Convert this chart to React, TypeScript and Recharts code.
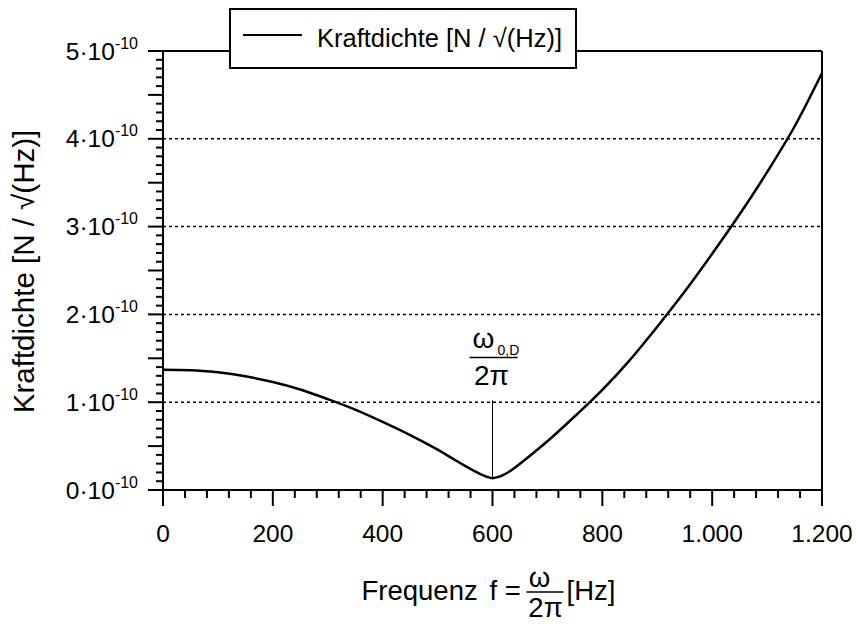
import React from "react";
import {
  LineChart,
  Line,
  XAxis,
  YAxis,
  ReferenceLine,
  Legend,
} from "recharts";

// Frequenz [Hz]
const frequenz = [
  0, 50, 100, 150, 200, 250, 300, 350, 400, 450, 500, 535, 550, 565, 580, 590,
  600, 610, 620, 635, 650, 675, 700, 750, 800, 850, 900, 950, 1000, 1050, 1100,
  1150, 1200,
];
// Kraftdichte in 1e-10 N/sqrt(Hz)
const kraftdichte = [
  1.37, 1.365, 1.34, 1.295, 1.23, 1.145, 1.035, 0.915, 0.775, 0.625, 0.46,
  0.33, 0.275, 0.222, 0.174, 0.15, 0.135, 0.148, 0.172, 0.228, 0.3, 0.425,
  0.555, 0.84, 1.14, 1.48, 1.86, 2.26, 2.69, 3.14, 3.62, 4.14, 4.75,
];

const xTicks = Array.from({ length: 31 }, (_, i) => i * 40);
const yTicks = Array.from({ length: 51 }, (_, i) => i / 10);
const gridLines = [1, 2, 3, 4];
const omegaD = 600;

const data = frequenz.map((f, i) => ({ f, k: kraftdichte[i] }));

const FONT = "'Liberation Sans', Arial, Helvetica, sans-serif";

const fmtDe = (v: number) =>
  v >= 1000 ? Math.floor(v / 1000) + "." + String(v % 1000).padStart(3, "0") : String(v);

const XTick = (props: any) => {
  const { x, y, payload } = props;
  const v = payload.value;
  const major = v % 200 === 0;
  return (
    <g>
      <line x1={x} x2={x} y1={y} y2={y + (major ? 16 : 8)} stroke="#000" strokeWidth={2} />
      {major && (
        <text x={x} y={y + 52} textAnchor="middle" fontSize={24.5} fontFamily={FONT} fill="#000">
          {fmtDe(v)}
        </text>
      )}
    </g>
  );
};

const YTick = (props: any) => {
  const { x, y, payload } = props;
  const i = Math.round(payload.value * 10);
  const major = i % 10 === 0;
  const half = i % 5 === 0;
  return (
    <g>
      <line x1={x - (half ? 15 : 7)} x2={x} y1={y} y2={y} stroke="#000" strokeWidth={2} />
      {major && (
        <text x={x - 25} y={y + 8.5} textAnchor="end" fontSize={24.5} fontFamily={FONT} fill="#000">
          {i / 10}·10
          <tspan dy={-11} fontSize={16}>
            -10
          </tspan>
        </text>
      )}
    </g>
  );
};

const XTitle = (props: any) => {
  const { viewBox } = props;
  const cx = viewBox.x + viewBox.width / 2;
  const y = viewBox.y;
  return (
    <g fontFamily={FONT} fill="#000" fontSize={27.5}>
      <text x={cx - 131} y={y + 110}>Frequenz</text>
      <text x={cx - 3} y={y + 110}>f =</text>
      <text x={cx + 47} y={y + 97} textAnchor="middle">ω</text>
      <line x1={cx + 34} x2={cx + 71} y1={y + 102} y2={y + 102} stroke="#000" strokeWidth={1.5} />
      <text x={cx + 53} y={y + 127} textAnchor="middle">2π</text>
      <text x={cx + 74} y={y + 110}>[Hz]</text>
    </g>
  );
};

const YTitle = (props: any) => {
  const { viewBox } = props;
  const cy = viewBox.y + viewBox.height / 2 + 1;
  const x = 34;
  return (
    <text
      x={x}
      y={cy}
      transform={`rotate(-90, ${x}, ${cy})`}
      textAnchor="middle"
      fontSize={29.5}
      fontFamily={FONT}
      fill="#000"
    >
      Kraftdichte [N / √(Hz)]
    </text>
  );
};

const OmegaLabel = (props: any) => {
  const { viewBox } = props;
  const cx = viewBox.x;
  const top = viewBox.y;
  return (
    <g fontFamily={FONT} fill="#000">
      <text x={cx - 20} y={top - 52} fontSize={28}>ω</text>
      <text x={cx + 5} y={top - 45} fontSize={14}>0,D</text>
      <line x1={cx - 23} x2={cx + 25} y1={top - 43} y2={top - 43} stroke="#000" strokeWidth={1.5} />
      <text x={cx - 1} y={top - 15} fontSize={28} textAnchor="middle">2π</text>
    </g>
  );
};

const LegendBox = () => (
  <div
    style={{
      width: 348,
      height: 61,
      boxSizing: "border-box",
      border: "2px solid #000",
      background: "#fff",
    }}
  >
    <svg width={344} height={57}>
      <line x1={12} x2={71} y1={25} y2={25} stroke="#000" strokeWidth={2} />
      <text x={86} y={37} fontSize={25.5} fontFamily={FONT} fill="#000">
        Kraftdichte [N / √(Hz)]
      </text>
    </svg>
  </div>
);

export default function App() {
  return (
    <div style={{ position: "absolute", left: 0, top: 0, background: "#fff" }}>
      <LineChart
        width={856}
        height={624}
        data={data}
        margin={{ top: 51, right: 34, bottom: 0, left: 0 }}
      >
        <XAxis
          dataKey="f"
          type="number"
          domain={[0, 1200]}
          ticks={xTicks}
          interval={0}
          height={134}
          tickSize={0}
          tickMargin={0}
          tickLine={false}
          axisLine={{ stroke: "#000", strokeWidth: 2 }}
          tick={<XTick />}
          label={<XTitle />}
        />
        <YAxis
          type="number"
          domain={[0, 5]}
          ticks={yTicks}
          interval={0}
          width={163}
          tickSize={0}
          tickMargin={0}
          tickLine={false}
          axisLine={{ stroke: "#000", strokeWidth: 2 }}
          tick={<YTick />}
          label={<YTitle />}
        />
        {gridLines.map((v) => (
          <ReferenceLine key={v} y={v} stroke="#000" strokeWidth={1.5} strokeDasharray="3 3" />
        ))}
        <ReferenceLine y={5} stroke="#000" strokeWidth={2} />
        <ReferenceLine x={1200} stroke="#000" strokeWidth={2} />
        <ReferenceLine
          segment={[
            { x: omegaD, y: 0.135 },
            { x: omegaD, y: 1.02 },
          ]}
          stroke="#000"
          strokeWidth={1}
          label={<OmegaLabel />}
        />
        <Line
          type="monotone"
          dataKey="k"
          stroke="#000"
          strokeWidth={2.5}
          dot={false}
          isAnimationActive={false}
        />
        <Legend
          layout="vertical"
          align="center"
          verticalAlign="middle"
          content={() => <LegendBox />}
          wrapperStyle={{ top: 8, left: 229, width: 348 }}
        />
      </LineChart>
    </div>
  );
}
